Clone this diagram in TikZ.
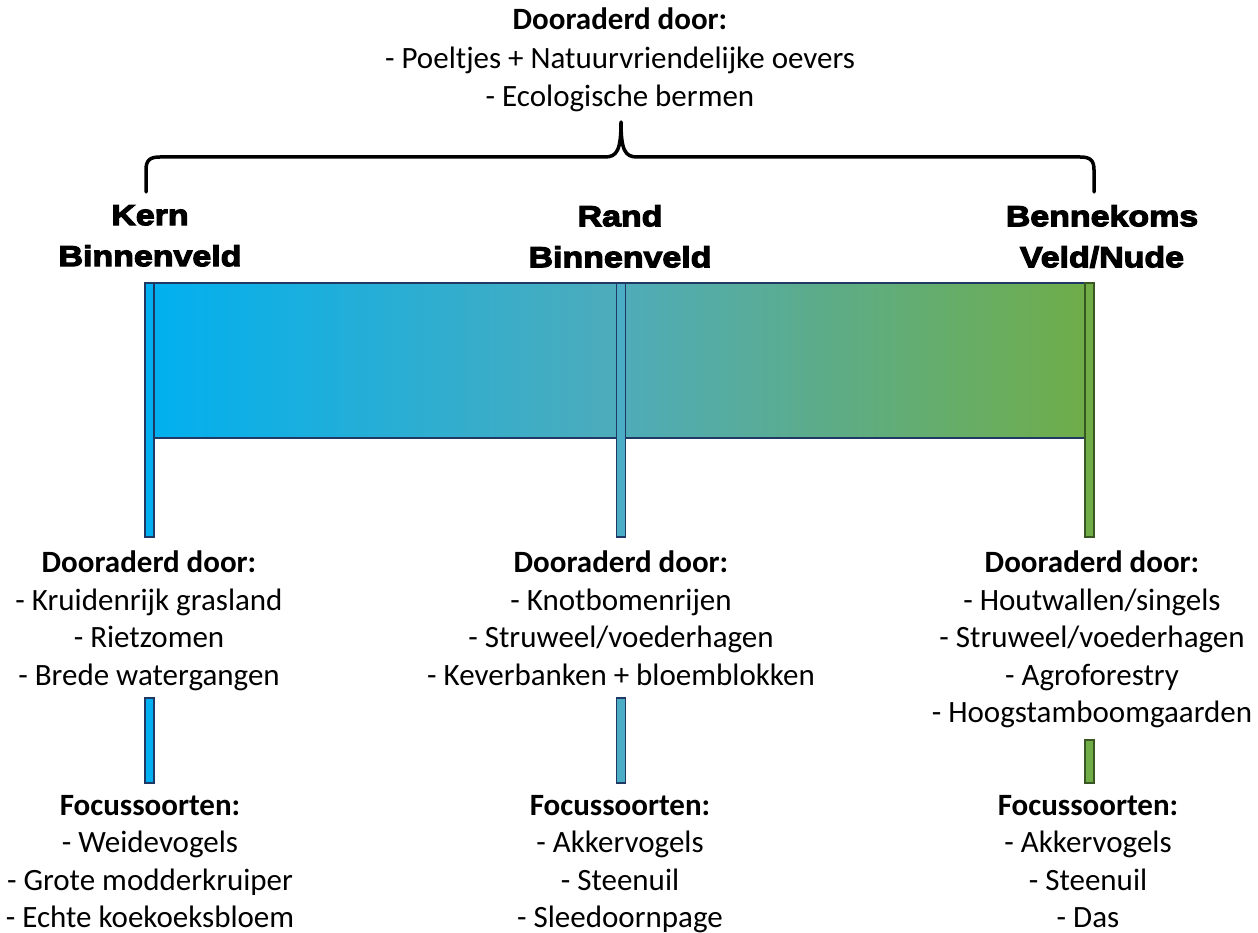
\documentclass[tikz,border=0pt]{standalone}
\usepackage{fontspec}
\setmainfont{Carlito}
\newfontfamily\headfont[FakeBold=4,FakeStretch=1.17]{Liberation Sans Bold}
\usetikzlibrary{calc}
\definecolor{kernblue}{RGB}{0,176,240}
\definecolor{randteal}{RGB}{75,172,198}
\definecolor{bandmid}{RGB}{78,172,186}
\definecolor{veldgreen}{RGB}{112,173,71}
\definecolor{navy}{RGB}{31,56,100}
\definecolor{darkgreen}{RGB}{56,87,35}
\def\bodysize{\fontsize{31}{37.4}\selectfont}
\begin{document}
\begin{tikzpicture}[
    x=1pt, y=-1pt,
    zone/.style={font=\headfont\fontsize{29}{41}\selectfont, align=center, inner sep=0, anchor=north, execute at begin node=\strut},
    info/.style={font=\bodysize, align=center, inner sep=0, anchor=north, execute at begin node=\strut},
    bar/.style 2 args={draw=#2, fill=#1, line width=1.5pt, inner sep=0, minimum width=9pt},
    bracket/.style={line width=3.5pt, line cap=round, line join=round}
  ]
  \useasboundingbox (0,0) rectangle (1258,933);

  % Top remark with the brace
  \node[info, font=\fontsize{31}{38.5}\selectfont] (door-top) at (620,8) {\textbf{Dooraderd door:}\\- Poeltjes + Natuurvriendelijke oevers\\- Ecologische bermen};
  \coordinate (brace-l) at (146,192);
  \coordinate (brace-m) at (621,122);
  \coordinate (brace-r) at (1094,192);
  \draw[bracket] (brace-l) -- ++(0,-22) .. controls ++(0,-10) and ++(-10,0) .. (160,157)
    -- (605,157) .. controls (617,157) and (621,150) .. (brace-m)
    .. controls (621,150) and (625,157) .. (637,157) -- (1080,157)
    .. controls ++(10,0) and ++(0,-10) .. ($(brace-r)+(0,-22)$) -- (brace-r);

  % Zone names
  \node[zone] (kern) at (150,205) {Kern\\Binnenveld};
  \node[zone] (rand) at (620,205) {Rand\\Binnenveld};
  \node[zone] (veld) at (1102,205) {Bennekoms\\Veld/Nude};

  % Gradient band
  \draw[navy, line width=1.2pt, left color=kernblue, right color=veldgreen, middle color=bandmid] (146,283) rectangle (1094,438);

  % Long bars
  \foreach \x/\c/\b/\n in {149.5/kernblue/navy/kern, 621/randteal/navy/rand, 1089.5/veldgreen/darkgreen/veld}
    \node[bar={\c}{\b}, minimum height=254pt] (bar-\n) at (\x,410) {};

  % Short bars
  \node[bar={kernblue}{navy}, minimum height=85pt] (link-kern) at (149.5,740.5) {};
  \node[bar={randteal}{navy}, minimum height=85pt] (link-rand) at (621,740.5) {};
  \node[bar={veldgreen}{darkgreen}, minimum height=43pt] (link-veld) at (1089.5,761.5) {};

  % Landscape elements
  \node[info] (door-kern) at (149,551) {\textbf{Dooraderd door:}\\- Kruidenrijk grasland\\- Rietzomen\\- Brede watergangen};
  \node[info] (door-rand) at (621,551) {\textbf{Dooraderd door:}\\- Knotbomenrijen\\- Struweel/voederhagen\\- Keverbanken + bloemblokken};
  \node[info] (door-veld) at (1092,551) {\textbf{Dooraderd door:}\\- Houtwallen/singels\\- Struweel/voederhagen\\- Agroforestry\\- Hoogstamboomgaarden};

  % Focus species
  \node[info] (focus-kern) at (150,795) {\textbf{Focussoorten:}\\- Weidevogels\\- Grote modderkruiper\\- Echte koekoeksbloem};
  \node[info] (focus-rand) at (620,795) {\textbf{Focussoorten:}\\- Akkervogels\\- Steenuil\\- Sleedoornpage};
  \node[info] (focus-veld) at (1088,795) {\textbf{Focussoorten:}\\- Akkervogels\\- Steenuil\\- Das};
\end{tikzpicture}
\end{document}
